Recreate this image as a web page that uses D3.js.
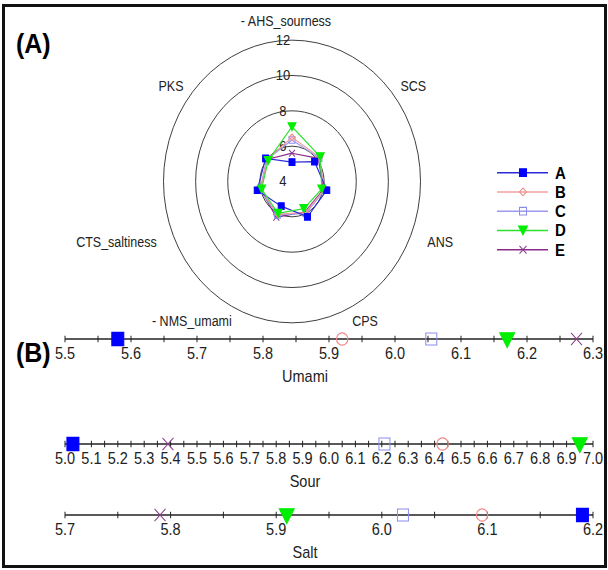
<!DOCTYPE html>
<html>
<head>
<meta charset="utf-8">
<script src="https://d3js.org/d3.v7.min.js"></script>
<style>
  body { margin: 0; background: #fff; }
  text { font-family: "Liberation Sans", Arial, sans-serif; }
</style>
</head>
<body>
<div id="chart"></div>
<script>
// radar axes, clockwise from the top
const attributes = ["- AHS_sourness", "SCS", "ANS", "CPS", "- NMS_umami", "CTS_saltiness", "PKS"];
const samples = ["A", "B", "C", "D", "E"];
const radarA = [5.1, 5.8, 6.22, 6.22, 5.55, 6.22, 6.1];
const radarB = [6.5, 6.2, 6.05, 5.95, 6.05, 6.0, 6.0];
const radarC = [6.35, 6.15, 6.1, 6.0, 6.1, 6.05, 6.0];
const radarD = [7.1, 6.25, 5.9, 5.7, 6.0, 5.94, 5.9];
const radarE = [5.6, 6.1, 6.0, 5.9, 6.25, 6.0, 6.0];
const ringValues = [4, 6, 8, 10, 12];

// panel B, one value per sample A..E
const umami = [5.58, 5.92, 6.055, 6.17, 6.275];
const sour = [5.03, 6.43, 6.21, 6.95, 5.39];
const salt = [6.19, 6.095, 6.02, 5.91, 5.79];
const umamiTicks = [5.5, 5.6, 5.7, 5.8, 5.9, 6.0, 6.1, 6.2, 6.3];
const sourTicks = [5.0, 5.1, 5.2, 5.3, 5.4, 5.5, 5.6, 5.7, 5.8, 5.9, 6.0, 6.1, 6.2, 6.3, 6.4, 6.5, 6.6, 6.7, 6.8, 6.9, 7.0];
const saltTicks = [5.7, 5.8, 5.9, 6.0, 6.1, 6.2];

const lineColors = ["#2b2bd9", "#f0a0a0", "#9a9af0", "#2fe02f", "#8a2a8a"];
const markColors = ["#0000ff", "#f08888", "#8c8cf0", "#00ee00", "#8a3a8a"];

const W = 608, H = 570, SY = 1.1; // the picture is stretched vertically

const svg = d3.select("#chart").append("svg")
    .attr("width", W)
    .attr("height", H);

// frame
svg.append("rect")
    .attr("x", 3.5).attr("y", 5.5)
    .attr("width", 602).attr("height", 561)
    .attr("fill", "none")
    .attr("stroke", "#111")
    .attr("stroke-width", 3);

const g = svg.append("g").attr("transform", `scale(1,${SY})`);

// marker path for each sample
function marker(i, size) {
    const s = size / 2;
    if (i === 0 || i === 2) return `M${-s},${-s}H${s}V${s}H${-s}Z`;
    if (i === 1) return `M0,${-s}L${s},0L0,${s}L${-s},0Z`;
    if (i === 3) return `M${-s},${-s * 0.9}H${s}L0,${s * 0.9}Z`;
    return `M${-s},${-s}L${s},${s}M${s},${-s}L${-s},${s}`;
}
function styleMark(sel, i) {
    const filled = i === 0 || i === 3;
    sel.attr("fill", filled ? markColors[i] : "none")
       .attr("stroke", markColors[i])
       .attr("stroke-width", 1);
}

// ****************** panel A: radar ***************************
const cx = 292, cy = 165;
const r = d3.scaleLinear().domain([4, 12]).range([0, 128.5]);
const angle = i => i * 2 * Math.PI / attributes.length;

g.selectAll("circle.ring")
    .data(ringValues.filter(v => v > 4))
    .enter().append("circle")
    .attr("class", "ring")
    .attr("cx", cx).attr("cy", cy)
    .attr("r", d => r(d))
    .attr("fill", "none")
    .attr("stroke", "#333")
    .attr("stroke-width", 0.9);

g.selectAll("text.ringlab")
    .data(ringValues)
    .enter().append("text")
    .attr("x", cx - 9)
    .attr("y", d => cy - r(d) + 4.5)
    .attr("text-anchor", "middle")
    .attr("font-size", 13)
    .attr("fill", "#222")
    .text(d => d);

// axis names
g.selectAll("text.attr")
    .data(attributes)
    .enter().append("text")
    .attr("x", (d, i) => cx + Math.sin(angle(i)) * r(12) * 1.08 - (i === 0 ? 6 : 0))
    .attr("y", (d, i) => {
        const a = angle(i);
        let y = cy - Math.cos(a) * r(12) * 1.08 + 4;
        if (Math.abs(Math.sin(a)) > 0.9) y += 25;
        if (Math.cos(a) > 0.9) y -= 7;
        if (Math.cos(a) < -0.8) y += 2;
        return y;
    })
    .attr("text-anchor", (d, i) => {
        const s = Math.sin(angle(i));
        return Math.abs(s) < 0.1 ? "middle" : (s > 0 ? "start" : "end");
    })
    .attr("font-size", 12.5)
    .attr("fill", "#222")
    .text(d => d);

const radarSeries = [radarA, radarB, radarC, radarD, radarE];
const pt = (v, k) => [cx + Math.sin(angle(k)) * r(v), cy - Math.cos(angle(k)) * r(v)];

// draw E first so A ends on top like the reference
[4, 2, 1, 0, 3].forEach(i => {
    const vals = radarSeries[i];
    const pts = vals.map((v, k) => pt(v, k));
    g.append("path")
        .attr("d", d3.line()(pts) + "Z")
        .attr("fill", "none")
        .attr("stroke", lineColors[i])
        .attr("stroke-width", 1.1);
    g.selectAll(null)
        .data(pts)
        .enter().append("path")
        .attr("transform", d => `translate(${d[0]},${d[1]})`)
        .attr("d", marker(i, i === 3 ? 8 : 6))
        .call(styleMark, i);
});

// legend
const legend = g.append("g");
samples.forEach((s, i) => {
    const y = 157 + i * 17.5;
    legend.append("line")
        .attr("x1", 497).attr("x2", 548)
        .attr("y1", y).attr("y2", y)
        .attr("stroke", lineColors[i])
        .attr("stroke-width", 1.4);
    legend.append("path")
        .attr("transform", `translate(523,${y})`)
        .attr("d", marker(i, i === 3 ? 9 : 7))
        .call(styleMark, i);
    legend.append("text")
        .attr("x", 555).attr("y", y + 5.5)
        .attr("font-family", "'Noto Sans', sans-serif")
        .attr("font-weight", "bold")
        .attr("font-size", 15)
        .text(s);
});

g.append("text")
    .attr("x", 16).attr("y", 53 / SY)
    .attr("font-family", "'Noto Sans', sans-serif")
    .attr("font-weight", "bold")
    .attr("font-size", 25)
    .text("(A)");

// ****************** panel B: strip axes ***************************
const strips = [
    {name: "Umami", vals: umami, ticks: umamiTicks, y: 339},
    {name: "Sour", vals: sour, ticks: sourTicks, y: 444},
    {name: "Salt", vals: salt, ticks: saltTicks, y: 515}
];

strips.forEach(st => {
    const x = d3.scaleLinear()
        .domain([st.ticks[0], st.ticks[st.ticks.length - 1]])
        .range([65, 593]);
    const y = st.y / SY;
    const row = g.append("g");
    row.append("line")
        .attr("x1", 65).attr("x2", 593)
        .attr("y1", y).attr("y2", y)
        .attr("stroke", "#222").attr("stroke-width", 1.2);
    // ticks on every half step
    const half = [];
    st.ticks.forEach((t, k) => {
        half.push(t);
        if (k < st.ticks.length - 1) half.push((t + st.ticks[k + 1]) / 2);
    });
    row.selectAll("line.tick")
        .data(half)
        .enter().append("line")
        .attr("x1", d => x(d)).attr("x2", d => x(d))
        .attr("y1", y - 3).attr("y2", y + 3)
        .attr("stroke", "#222");
    row.selectAll("text.tl")
        .data(st.ticks)
        .enter().append("text")
        .attr("x", d => x(d))
        .attr("y", y + 20 / SY)
        .attr("text-anchor", "middle")
        .attr("font-size", 14.5)
        .attr("fill", "#222")
        .text(d => d3.format(".1f")(d));
    row.append("text")
        .attr("x", 305).attr("y", y + 43 / SY)
        .attr("text-anchor", "middle")
        .attr("font-size", 14.5)
        .attr("fill", "#222")
        .text(st.name);
    st.vals.forEach((v, i) => {
        const sz = [12, 11, 11, 15, 11][i];
        const p = row.append("path")
            .attr("transform", `translate(${x(v)},${y + (i === 3 ? 1 : 0)})`)
            .attr("d", i === 1 ? d3.symbol(d3.symbolCircle, 100)() : marker(i, sz))
            .call(styleMark, i);
        if (i === 1) p.attr("stroke-width", 1.2);
    });
});

g.append("text")
    .attr("x", 16).attr("y", 362 / SY)
    .attr("font-family", "'Noto Sans', sans-serif")
    .attr("font-weight", "bold")
    .attr("font-size", 25)
    .text("(B)");
</script>
</body>
</html>
